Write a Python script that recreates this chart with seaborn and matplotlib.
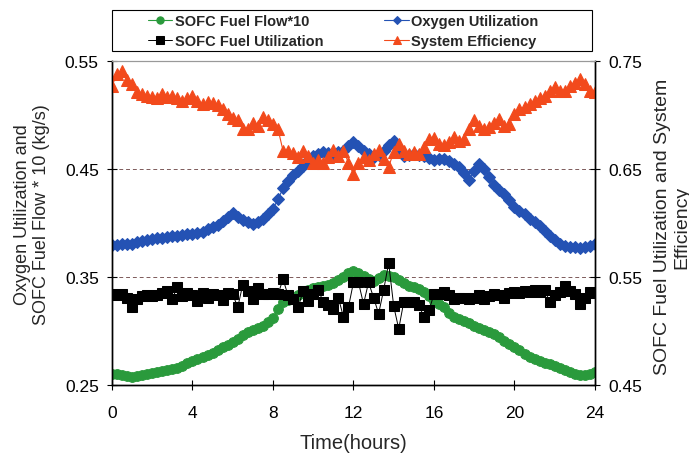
import numpy as np
import seaborn as sns
import matplotlib.pyplot as plt
from matplotlib.patches import Rectangle

# sampling times (every 15 minutes over one day)
hours = np.linspace(0, 24, 97)

# SOFC fuel flow * 10 (kg/s), left axis
fuel_flow = [0.260, 0.260, 0.259, 0.258, 0.257,
             0.258, 0.259, 0.260, 0.261,
             0.262, 0.263, 0.264, 0.265,
             0.266, 0.268, 0.270, 0.272,
             0.274, 0.276, 0.278, 0.280,
             0.282, 0.285, 0.287, 0.290,
             0.293, 0.296, 0.299, 0.301,
             0.303, 0.305, 0.308, 0.312,
             0.320, 0.327, 0.329, 0.331,
             0.333, 0.336, 0.338, 0.340,
             0.341, 0.342, 0.343, 0.344,
             0.347, 0.350, 0.354, 0.356,
             0.354, 0.351, 0.348, 0.346,
             0.349, 0.352, 0.351, 0.350,
             0.347, 0.344, 0.342, 0.341,
             0.339, 0.336, 0.332, 0.328,
             0.325, 0.322, 0.317, 0.313,
             0.311, 0.309, 0.307, 0.305,
             0.303, 0.301, 0.299, 0.297,
             0.294, 0.291, 0.288, 0.285,
             0.282, 0.279, 0.276, 0.274,
             0.272, 0.270, 0.269, 0.268,
             0.266, 0.264, 0.262, 0.260,
             0.259, 0.259, 0.260, 0.262]

# oxygen utilization, left axis
oxygen_util = [0.380, 0.380, 0.381, 0.381, 0.381,
               0.382, 0.383, 0.384, 0.385,
               0.386, 0.386, 0.387, 0.388,
               0.388, 0.389, 0.390, 0.390,
               0.391, 0.392, 0.394, 0.396,
               0.398, 0.402, 0.406, 0.409,
               0.406, 0.403, 0.401, 0.399,
               0.401, 0.404, 0.408, 0.413,
               0.422, 0.432, 0.439, 0.444,
               0.448, 0.453, 0.458, 0.462,
               0.464, 0.466, 0.465, 0.464,
               0.466, 0.467, 0.471, 0.475,
               0.471, 0.467, 0.464, 0.461,
               0.463, 0.467, 0.472, 0.476,
               0.469, 0.462, 0.463, 0.464,
               0.463, 0.462, 0.460, 0.458,
               0.459, 0.459, 0.457, 0.455,
               0.452, 0.446, 0.440, 0.448,
               0.455, 0.450, 0.443, 0.435,
               0.431, 0.427, 0.421, 0.415,
               0.411, 0.408, 0.404, 0.401,
               0.397, 0.393, 0.388, 0.384,
               0.381, 0.379, 0.378, 0.3775,
               0.377, 0.378, 0.379, 0.381]

# SOFC fuel utilization, right axis
fuel_util = [0.534, 0.533, 0.534, 0.531, 0.522,
             0.530, 0.532, 0.533, 0.532,
             0.533, 0.535, 0.537, 0.530,
             0.541, 0.532, 0.535, 0.533,
             0.528, 0.535, 0.531, 0.534,
             0.533, 0.529, 0.535, 0.534,
             0.522, 0.543, 0.537, 0.530,
             0.540, 0.534, 0.534, 0.535,
             0.534, 0.548, 0.533, 0.530,
             0.522, 0.537, 0.528, 0.534,
             0.538, 0.527, 0.524, 0.520,
             0.531, 0.513, 0.522, 0.545,
             0.545, 0.525, 0.545, 0.531,
             0.516, 0.538, 0.563, 0.523,
             0.502, 0.527, 0.527, 0.527,
             0.524, 0.513, 0.519, 0.534,
             0.534, 0.536, 0.533, 0.530,
             0.531, 0.531, 0.530, 0.531,
             0.533, 0.530, 0.532, 0.534,
             0.533, 0.531, 0.535, 0.536,
             0.535, 0.537, 0.536, 0.538,
             0.536, 0.538, 0.527, 0.533,
             0.536, 0.542, 0.537, 0.534,
             0.525, 0.531, 0.536, 0.535]

# system efficiency, right axis
sys_eff = [0.727, 0.738, 0.741, 0.732, 0.729,
           0.721, 0.719, 0.718, 0.717,
           0.716, 0.719, 0.717, 0.718,
           0.716, 0.713, 0.716, 0.718,
           0.713, 0.710, 0.712, 0.711,
           0.709, 0.706, 0.701, 0.697,
           0.695, 0.687, 0.687, 0.693,
           0.690, 0.698, 0.695, 0.692,
           0.687, 0.667, 0.667, 0.665,
           0.661, 0.667, 0.662, 0.656,
           0.658, 0.656, 0.661, 0.668,
           0.662, 0.667, 0.656, 0.645,
           0.656, 0.661, 0.658, 0.664,
           0.668, 0.659, 0.652, 0.666,
           0.673, 0.667, 0.664, 0.666,
           0.664, 0.670, 0.678, 0.679,
           0.673, 0.672, 0.675, 0.680,
           0.676, 0.678, 0.687, 0.695,
           0.690, 0.687, 0.689, 0.693,
           0.696, 0.690, 0.692, 0.701,
           0.706, 0.707, 0.710, 0.713,
           0.716, 0.718, 0.722, 0.726,
           0.722, 0.722, 0.727, 0.730,
           0.733, 0.729, 0.722, 0.721]

left_ticks = [0.25, 0.35, 0.45, 0.55]
right_ticks = [0.45, 0.55, 0.65, 0.75]
x_ticks = [0, 4, 8, 12, 16, 20, 24]

green = '#2a9a3c'
blue = '#2452b4'
red = '#f24a1c'

sns.set_style('white')
plt.rcParams['font.family'] = ['Liberation Sans', 'DejaVu Sans']

fig = plt.figure(figsize=(6.89, 4.56), dpi=100)
ax = fig.add_axes([0.1625, 0.1535, 0.701, 0.7105])
ax2 = ax.twinx()

# left axis series
sns.lineplot(x=hours, y=fuel_flow, ax=ax, color=green, linewidth=0.8,
             marker='o', markersize=7, markeredgecolor=green,
             label='SOFC Fuel Flow*10', legend=False)
sns.lineplot(x=hours, y=oxygen_util, ax=ax, color=blue, linewidth=0.8,
             marker='D', markersize=6, markeredgecolor=blue,
             label='Oxygen Utilization', legend=False)

# right axis series
sns.lineplot(x=hours, y=fuel_util, ax=ax2, color='black', linewidth=0.7,
             marker='s', markersize=7, markeredgecolor='black',
             label='SOFC Fuel Utilization', legend=False)
sns.lineplot(x=hours, y=sys_eff, ax=ax2, color=red, linewidth=0.8,
             marker='^', markersize=8, markeredgecolor=red,
             label='System Efficiency', legend=False)

ax.set_xlim(0, 24)
ax.set_ylim(0.25, 0.55)
ax2.set_ylim(0.45, 0.75)
ax.set_xticks(x_ticks)
ax.set_yticks(left_ticks)
ax2.set_yticks(right_ticks)
ax.set_yticklabels([f'{v:.2f}' for v in left_ticks])
ax2.set_yticklabels([f'{v:.2f}' for v in right_ticks])

for a in (ax, ax2):
    a.tick_params(direction='inout', length=7, width=0.8, labelsize=12.5,
                  colors='black', pad=6)
    for side in ('left', 'right', 'bottom'):
        a.spines[side].set_color('black')
        a.spines[side].set_linewidth(1.0)
    a.spines['top'].set_color('#999999')
    a.spines['top'].set_linewidth(0.8)
ax.tick_params(axis='y', left=True, right=False)
ax.tick_params(axis='x', bottom=True, pad=11)
ax2.tick_params(axis='y', right=True, left=False)

for v in left_ticks[1:3]:
    ax.axhline(v, color='#7d5a5a', linestyle=(0, (4, 3)), linewidth=0.7, zorder=0)

ax.set_xlabel('Time(hours)', fontsize=14.5, labelpad=9)
ax.set_ylabel('Oxygen Utilization and\nSOFC Fuel Flow * 10 (kg/s)', fontsize=13)
ax.yaxis.set_label_coords(-0.128, 0.53)
ax2.set_ylabel('SOFC Fuel Utilization and System\nEfficiency',
               fontsize=14, rotation=90)
ax2.yaxis.set_label_coords(1.122, 0.49)

h1, l1 = ax.get_legend_handles_labels()
h2, l2 = ax2.get_legend_handles_labels()
handles = [h1[0], h2[0], h1[1], h2[1]]
labels = [l1[0], l2[0], l1[1], l2[1]]
ax2.legend(handles, labels, ncol=2, loc='center',
           bbox_to_anchor=(343 / 689, 1 - 32 / 456),
           bbox_transform=fig.transFigure, frameon=False,
           prop={'weight': 'bold', 'size': 10.5}, handlelength=1.7,
           handletextpad=0.15, labelspacing=0.45, columnspacing=4.2,
           markerscale=0.75)

# legend box spans the plot width
fig.patches.append(Rectangle((112 / 689, 1 - 52 / 456), 480 / 689, 41 / 456,
                             transform=fig.transFigure, fill=False,
                             edgecolor='black', linewidth=0.8))

fig.savefig('out.png', dpi=100)
